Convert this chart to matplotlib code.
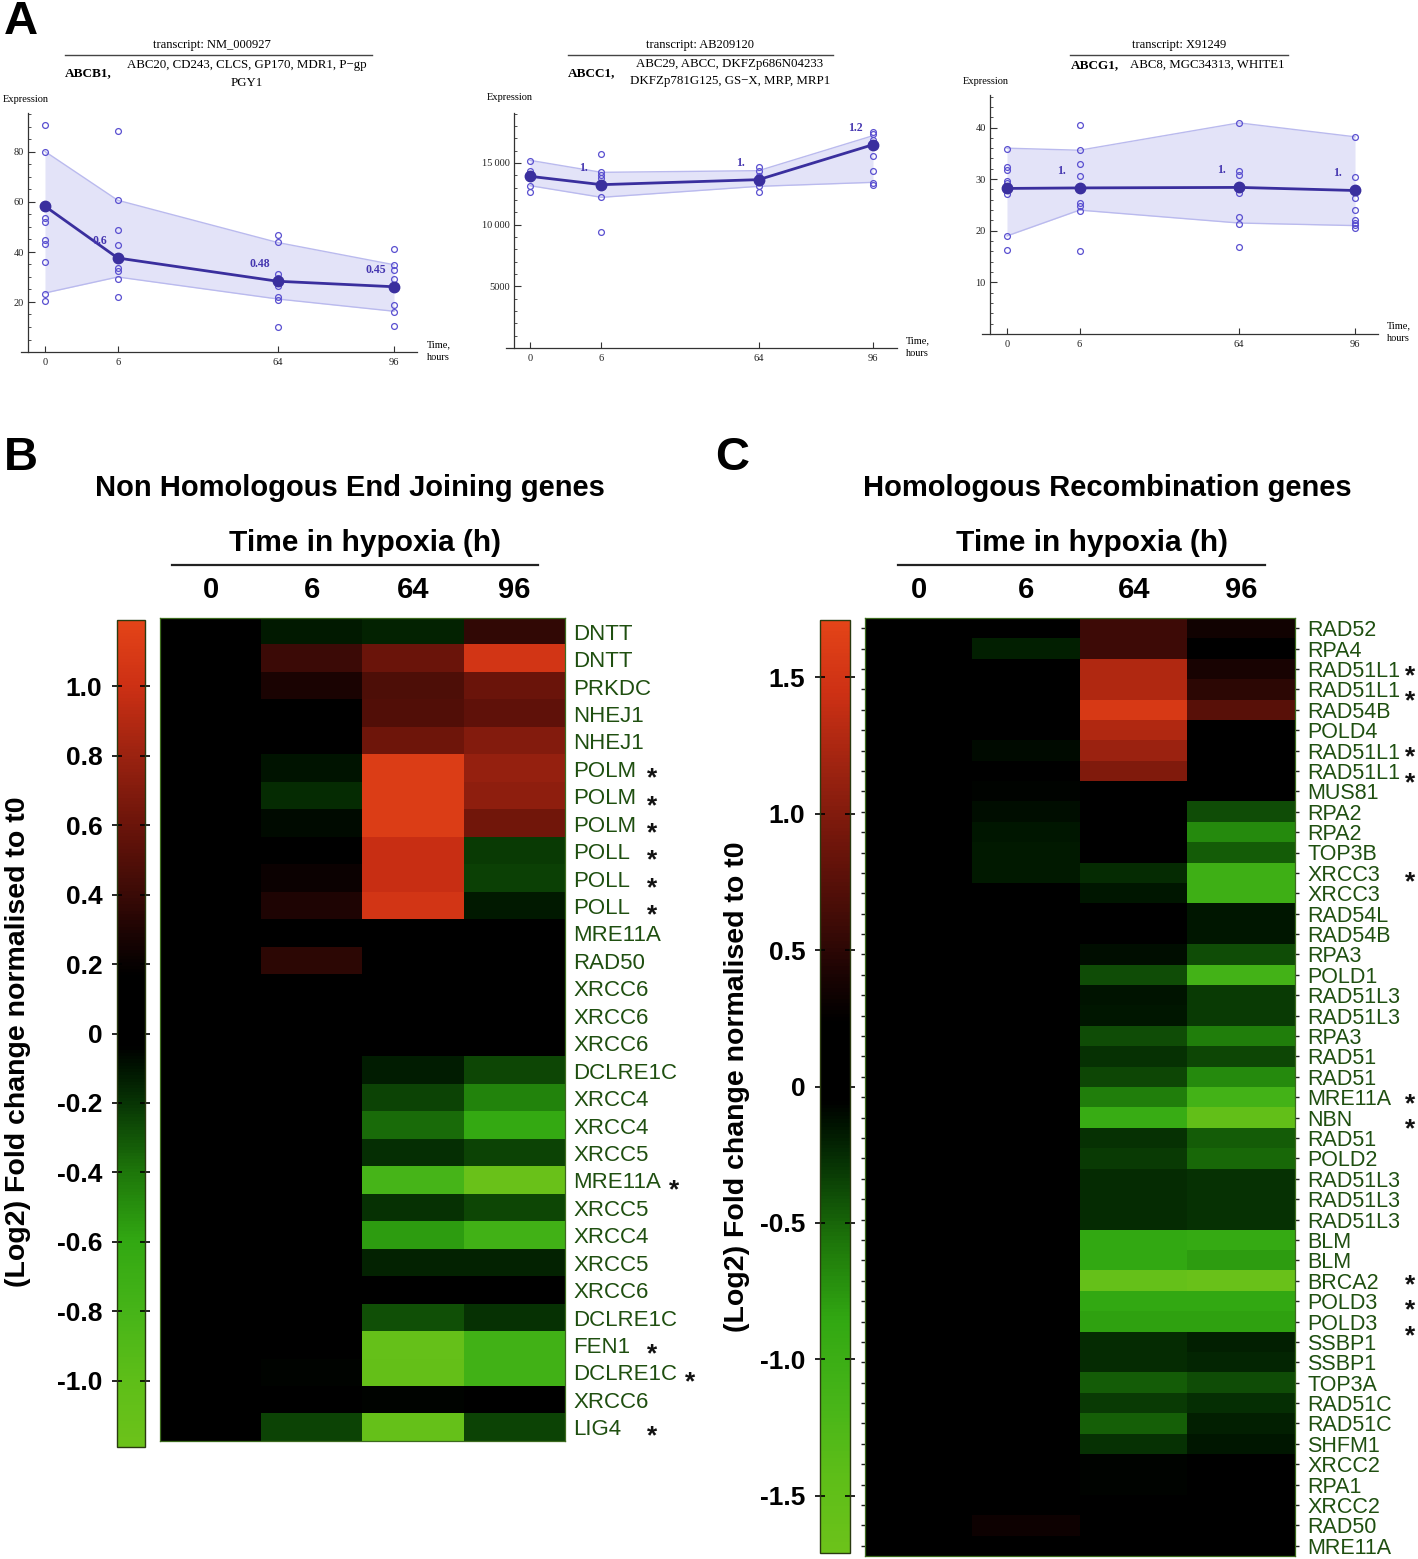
import numpy as np
import matplotlib
matplotlib.use('Agg')
import matplotlib.pyplot as plt
from matplotlib.colors import LinearSegmentedColormap, Normalize
from matplotlib.lines import Line2D
from matplotlib.ticker import MultipleLocator, FixedLocator
from matplotlib.font_manager import FontProperties
import matplotlib.cm as mcm

plt.rcParams['axes.unicode_minus'] = False

# ---------------- DATA: panel A ----------------
time_labels = ['0', '6', '64', '96']
time_pos = [0.0, 1.0, 3.2, 4.8]

abcb1_reps = [[90.7, 80.1, 53.5, 51.9, 44.7, 43.2, 36.0, 23.3, 20.3],
              [88.5, 60.7, 48.7, 42.8, 33.7, 32.3, 29.3, 21.9],
              [46.8, 43.9, 31.2, 29.6, 26.4, 22.0, 20.8, 9.9],
              [41.1, 34.7, 32.9, 29.1, 18.7, 16.1, 10.3]]
abcb1_mean = [58.3, 37.6, 28.3, 26.1]
abcb1_upper = [80.2, 60.7, 43.8, 34.9]
abcb1_lower = [23.6, 30.0, 21.2, 16.3]
abcb1_fc = ['', '0.6', '0.48', '0.45']

abcc1_reps = [[15135, 14324, 14135, 13784, 13162, 12622],
              [15703, 14243, 14000, 13811, 12243, 9378],
              [14649, 14324, 13973, 13162, 12649],
              [17486, 17351, 16892, 15595, 14351, 13378, 13243]]
abcc1_mean = [13920, 13243, 13650, 16486]
abcc1_upper = [15216, 14243, 14378, 17216]
abcc1_lower = [13162, 12216, 13108, 13432]
abcc1_fc = ['', '1.', '1.', '1.2']

abcg1_reps = [[35.9, 32.4, 31.8, 29.6, 29.2, 27.1, 18.9, 16.3],
              [40.5, 35.6, 33.0, 30.6, 25.3, 24.8, 23.8, 16.1],
              [40.9, 31.5, 30.8, 27.4, 22.6, 21.3, 16.9],
              [38.2, 30.4, 26.4, 24.1, 22.1, 21.6, 21.2, 20.6]]
abcg1_mean = [28.2, 28.3, 28.4, 27.8]
abcg1_upper = [36.0, 35.6, 40.9, 38.2]
abcg1_lower = [19.0, 24.0, 21.5, 21.0]
abcg1_fc = ['', '1.', '1.', '1.']

# ---------------- DATA: panel B (NHEJ) ----------------
hm_times = ['0', '6', '64', '96']
nhej_genes = ['DNTT', 'DNTT', 'PRKDC', 'NHEJ1', 'NHEJ1', 'POLM', 'POLM', 'POLM',
              'POLL', 'POLL', 'POLL', 'MRE11A', 'RAD50', 'XRCC6', 'XRCC6', 'XRCC6',
              'DCLRE1C', 'XRCC4', 'XRCC4', 'XRCC5', 'MRE11A', 'XRCC5', 'XRCC4',
              'XRCC5', 'XRCC6', 'DCLRE1C', 'FEN1', 'DCLRE1C', 'XRCC6', 'LIG4']
nhej_star = [0, 0, 0, 0, 0, 1, 1, 1, 1, 1, 1, 0, 0, 0, 0, 0, 0, 0, 0, 0,
             1, 0, 0, 0, 0, 0, 1, 1, 0, 1]
nhej_0h = [0, 0, 0, 0, 0, 0, 0, 0, 0, 0, 0, 0, 0, 0, 0, 0, 0, 0, 0, 0,
           0, 0, 0, 0, 0, 0, 0, 0, 0, 0]
nhej_6h = [-0.12, 0.40, 0.28, 0, 0, -0.10, -0.17, -0.07, 0, 0.22, 0.30, 0, 0.35, 0, 0, 0,
           0, 0, 0, 0, 0, 0, 0, 0, 0, 0, 0, -0.05, 0, -0.25]
nhej_64h = [-0.14, 0.60, 0.48, 0.50, 0.62, 1.12, 1.12, 1.12, 0.98, 0.98, 1.05, 0, 0, 0,
            -0.04, -0.04, -0.13, -0.25, -0.37, -0.18, -0.80, -0.19, -0.55, -0.14, -0.03,
            -0.28, -1.10, -1.08, -0.05, -1.10]
nhej_96h = [0.37, 1.05, 0.60, 0.55, 0.70, 0.78, 0.75, 0.63, -0.22, -0.24, -0.12, 0, 0, 0,
            -0.02, -0.02, -0.26, -0.45, -0.62, -0.25, -1.15, -0.26, -0.75, -0.14, -0.03,
            -0.19, -0.75, -0.75, -0.02, -0.25]

# ---------------- DATA: panel C (HR) ----------------
hr_genes = ['RAD52', 'RPA4', 'RAD51L1', 'RAD51L1', 'RAD54B', 'POLD4', 'RAD51L1', 'RAD51L1',
            'MUS81', 'RPA2', 'RPA2', 'TOP3B', 'XRCC3', 'XRCC3', 'RAD54L', 'RAD54B', 'RPA3',
            'POLD1', 'RAD51L3', 'RAD51L3', 'RPA3', 'RAD51', 'RAD51', 'MRE11A', 'NBN', 'RAD51',
            'POLD2', 'RAD51L3', 'RAD51L3', 'RAD51L3', 'BLM', 'BLM', 'BRCA2', 'POLD3', 'POLD3',
            'SSBP1', 'SSBP1', 'TOP3A', 'RAD51C', 'RAD51C', 'SHFM1', 'XRCC2', 'RPA1', 'XRCC2',
            'RAD50', 'MRE11A']
hr_star = [0, 0, 1, 1, 0, 0, 1, 1, 0, 0, 0, 0, 1, 0, 0, 0, 0, 0, 0, 0, 0, 0, 0, 1, 1,
           0, 0, 0, 0, 0, 0, 0, 1, 1, 1, 0, 0, 0, 0, 0, 0, 0, 0, 0, 0, 0]
hr_0h = [0, 0, 0, 0, 0, 0, 0, 0, 0, 0, 0, 0, 0, 0, 0, 0, 0, 0, 0, 0, 0, 0, 0,
         0, 0, 0, 0, 0, 0, 0, 0, 0, 0, 0, 0, 0, 0, 0, 0, 0, 0, 0, 0, 0, 0, 0]
hr_6h = [0, -0.19, 0, 0, 0, 0, -0.10, 0, -0.08, -0.12, -0.15, -0.17, -0.17, -0.05,
         0, 0, 0, 0, 0, 0, 0, 0, 0, 0, 0, 0, 0, 0, 0, 0, 0, 0, 0, 0, 0, 0, 0, 0,
         0, 0, 0, 0, 0, 0, 0.33, 0]
hr_64h = [0.60, 0.60, 1.27, 1.28, 1.56, 1.27, 1.15, 1.00, 0, 0, 0, 0, -0.25, -0.16, 0, 0,
          -0.12, -0.40, -0.14, -0.15, -0.39, -0.28, -0.37, -0.62, -0.95, -0.28, -0.32,
          -0.25, -0.25, -0.25, -0.86, -0.86, -1.58, -0.86, -0.82, -0.25, -0.25, -0.46,
          -0.32, -0.48, -0.28, -0.07, -0.08, 0, 0, 0]
hr_96h = [0.36, 0, 0.40, 0.50, 0.75, 0, 0, 0, 0, -0.40, -0.69, -0.46, -1.04, -1.04, -0.15,
          -0.15, -0.40, -1.12, -0.32, -0.32, -0.62, -0.37, -0.69, -1.12, -1.51, -0.46,
          -0.52, -0.28, -0.28, -0.28, -0.92, -0.80, -1.65, -0.86, -0.82, -0.20, -0.22,
          -0.39, -0.26, -0.20, -0.15, 0, 0, 0, 0, 0]

nhej_cb_ticks = [1.0, 0.8, 0.6, 0.4, 0.2, 0, -0.2, -0.4, -0.6, -0.8, -1.0]
nhej_cb_labels = ['1.0', '0.8', '0.6', '0.4', '0.2', '0', '-0.2', '-0.4', '-0.6', '-0.8', '-1.0']
hr_cb_ticks = [1.5, 1.0, 0.5, 0, -0.5, -1.0, -1.5]
hr_cb_labels = ['1.5', '1.0', '0.5', '0', '-0.5', '-1.0', '-1.5']

# ---------------- FIGURE ----------------
W, H = 1418, 1559
fig = plt.figure(figsize=(W / 100, H / 100), dpi=100)
fig.patch.set_facecolor('white')


def rect(x0, y0, x1, y1):
    return [x0 / W, 1 - y1 / H, (x1 - x0) / W, (y1 - y0) / H]


def ft(x, y, s, **kw):
    return fig.text(x / W, 1 - y / H, s, **kw)


def fline(x0, x1, y, **kw):
    fig.add_artist(Line2D([x0 / W, x1 / W], [1 - y / H, 1 - y / H], transform=fig.transFigure, **kw))


SERIF = 'Liberation Serif'
SANS = 'Liberation Sans'
LINE_C = '#3a2f9e'
PT_C = '#5a50d0'
BAND_F = '#e3e3f8'
BAND_E = '#babaee'
AX_C = '#333333'


def line_panel(ax_l, ax_r, p0, pend, yax, top, bottom, ymax, reps, mean, upper, lower, fc,
               major, minor, ylabels):
    ppu = (pend - p0) / time_pos[-1]
    xl = -(p0 - ax_l) / ppu
    xr = time_pos[-1] + (ax_r - pend) / ppu
    ax = fig.add_axes(rect(ax_l, top, ax_r, bottom))
    ax.set_xlim(xl, xr)
    ax.set_ylim(0, ymax)
    ax.patch.set_alpha(0)
    for s in ['top', 'right']:
        ax.spines[s].set_visible(False)
    ax.spines['left'].set_position(('data', xl + (yax - ax_l) / ppu))
    for s in ['left', 'bottom']:
        ax.spines[s].set_color(AX_C)
        ax.spines[s].set_linewidth(0.9)
    ax.fill_between(time_pos, lower, upper, color=BAND_F, lw=0, zorder=1)
    ax.plot(time_pos, upper, color=BAND_E, lw=1.0, zorder=2)
    ax.plot(time_pos, lower, color=BAND_E, lw=1.0, zorder=2)
    for p, r in zip(time_pos, reps):
        ax.plot([p] * len(r), r, 'o', mfc='none', mec=PT_C, ms=4.2, mew=0.9, zorder=3)
    ax.plot(time_pos, mean, '-o', color=LINE_C, lw=2.0, ms=7.5, zorder=4)
    for p, m, t in zip(time_pos, mean, fc):
        if t:
            ax.annotate(t, (p, m), xytext=(-18, 17), textcoords='offset pixels',
                        ha='center', va='center', fontsize=8.5, fontweight='bold',
                        color='#4536b0', family=SERIF, zorder=5)
    ax.yaxis.set_major_locator(FixedLocator(major))
    ax.set_yticklabels(ylabels, family=SERIF, fontsize=7.5, color='#222222')
    ax.yaxis.set_minor_locator(MultipleLocator(minor))
    ax.tick_params(axis='y', which='major', direction='in', length=5, width=0.8, color=AX_C, pad=3)
    ax.tick_params(axis='y', which='minor', direction='in', length=2.5, width=0.6, color=AX_C)
    ax.set_xticks(time_pos)
    ax.set_xticklabels(time_labels, family=SERIF, fontsize=7.5, color='#222222')
    ax.tick_params(axis='x', direction='in', length=4, width=0.8, color=AX_C, pad=4)
    return ax


# Panel A - left
line_panel(21, 417, 45, 394, 28, 113, 352, 95.6, abcb1_reps, abcb1_mean, abcb1_upper,
           abcb1_lower, abcb1_fc, [20, 40, 60, 80], 5, ['20', '40', '60', '80'])
ft(212, 45, 'transcript: NM_000927', ha='center', va='center', family=SERIF, fontsize=9)
fline(65, 372, 55, color='#444444', lw=1.0)
ft(65, 73, 'ABCB1,', ha='left', va='center', family=SERIF, fontsize=9.5, fontweight='bold')
ft(247, 65, 'ABC20, CD243, CLCS, GP170, MDR1, P\u2212gp', ha='center', va='center', family=SERIF, fontsize=9.3)
ft(247, 83, 'PGY1', ha='center', va='center', family=SERIF, fontsize=9.3)
ft(3, 99, 'Expression', ha='left', va='center', family=SERIF, fontsize=7.5)
ft(427, 351, 'Time,\nhours', ha='left', va='center', family=SERIF, fontsize=7.5, linespacing=1.5)

# Panel A - middle
line_panel(506, 897, 530, 873, 514, 113, 348, 19054, abcc1_reps, abcc1_mean, abcc1_upper,
           abcc1_lower, abcc1_fc, [5000, 10000, 15000], 1000, ['5000', '10\u2009000', '15\u2009000'])
ft(700, 45, 'transcript: AB209120', ha='center', va='center', family=SERIF, fontsize=9)
fline(568, 833, 55, color='#444444', lw=1.0)
ft(568, 73, 'ABCC1,', ha='left', va='center', family=SERIF, fontsize=9.5, fontweight='bold')
ft(730, 64, 'ABC29, ABCC, DKFZp686N04233', ha='center', va='center', family=SERIF, fontsize=9.3)
ft(730, 81, 'DKFZp781G125, GS\u2212X, MRP, MRP1', ha='center', va='center', family=SERIF, fontsize=9.3)
ft(487, 98, 'Expression', ha='left', va='center', family=SERIF, fontsize=7.5)
ft(906, 347, 'Time,\nhours', ha='left', va='center', family=SERIF, fontsize=7.5, linespacing=1.5)

# Panel A - right
line_panel(982, 1378, 1007, 1355, 990, 95, 334, 46.3, abcg1_reps, abcg1_mean, abcg1_upper,
           abcg1_lower, abcg1_fc, [10, 20, 30, 40], 2, ['10', '20', '30', '40'])
ft(1179, 45, 'transcript: X91249', ha='center', va='center', family=SERIF, fontsize=9)
fline(1070, 1288, 55, color='#444444', lw=1.0)
ft(1071, 65, 'ABCG1,', ha='left', va='center', family=SERIF, fontsize=9.5, fontweight='bold')
ft(1130, 65, 'ABC8, MGC34313, WHITE1', ha='left', va='center', family=SERIF, fontsize=9.3)
ft(963, 81, 'Expression', ha='left', va='center', family=SERIF, fontsize=7.5)
ft(1387, 332, 'Time,\nhours', ha='left', va='center', family=SERIF, fontsize=7.5, linespacing=1.5)

# panel letters
ft(4, 22, 'A', ha='left', va='center', family=SANS, fontsize=34, fontweight='bold')
ft(4, 458, 'B', ha='left', va='center', family=SANS, fontsize=34, fontweight='bold')
ft(715, 458, 'C', ha='left', va='center', family=SANS, fontsize=34, fontweight='bold')

# ---------------- colormap ----------------
cm_vals = [-1.19, -1.0, -0.8, -0.6, -0.4, -0.2, -0.1, -0.04, 0.17, 0.3, 0.4, 0.6, 0.8, 1.0, 1.19]
cm_cols = ['#6cc21a', '#5ebe18', '#46b418', '#32a812', '#1d760a', '#073404', '#001400',
           '#000000', '#000000', '#1e0403', '#3a0a06', '#6a140a', '#9a2210', '#cc3014', '#e44418']
cmap = LinearSegmentedColormap.from_list(
    'gkr', [((v + 1.19) / 2.38, c) for v, c in zip(cm_vals, cm_cols)])

LBL_C = '#1f4f10'
STAR_FS = 19


def heatmap(hm_px, cb_px, cols, genes, stars, vlim, cb_ticks, cb_labels, lab_fs, star_x,
            star_after, left_ticks):
    arr = np.array(cols).T
    n = len(genes)
    ax = fig.add_axes(rect(*hm_px))
    ax.imshow(arr, cmap=cmap, vmin=-vlim, vmax=vlim, aspect='auto', interpolation='nearest')
    ax.set_xticks(range(len(hm_times)))
    ax.set_xticklabels(hm_times, family=SANS, fontsize=21, fontweight='bold')
    ax.xaxis.tick_top()
    ax.tick_params(axis='x', length=0, pad=10)
    ax.set_yticks(range(n))
    ax.set_yticklabels(genes, family=SANS, fontsize=lab_fs, color=LBL_C)
    ax.yaxis.tick_right()
    ax.tick_params(axis='y', length=0, pad=6)
    if left_ticks:
        ax.tick_params(axis='y', which='both', left=True, length=3, width=1, color='#222222')
    for s in ax.spines.values():
        s.set_color('#3c6a1e')
        s.set_linewidth(0.9)
    # colorbar
    cax = fig.add_axes(rect(*cb_px))
    sm = mcm.ScalarMappable(norm=Normalize(-vlim, vlim), cmap=cmap)
    cb = fig.colorbar(sm, cax=cax)
    cb.outline.set_edgecolor('#2a3a10')
    cb.outline.set_linewidth(1.0)
    cb.set_ticks(cb_ticks)
    cb.set_ticklabels(cb_labels)
    cax.yaxis.set_ticks_position('both')
    cax.tick_params(axis='y', left=True, right=True, labelleft=True, labelright=False,
                    direction='inout', length=7, width=1.2, color='black', pad=7)
    for t in cax.get_yticklabels():
        t.set_family(SANS)
        t.set_fontweight('bold')
        t.set_fontsize(19)
    # stars
    fig.canvas.draw()
    r = fig.canvas.get_renderer()
    labs = ax.get_yticklabels()
    pitch = (hm_px[3] - hm_px[1]) / n
    fp = FontProperties(family=SANS, weight='bold', size=STAR_FS)
    _, lp_h, lp_d = r.get_text_width_height_descent('lp', fp, ismath=False)
    ls = pitch / (lp_h - lp_d)
    if star_after:
        groups = [[i] for i in range(n) if stars[i]]
    else:
        groups = []
        for i in range(n):
            if stars[i]:
                if groups and groups[-1][-1] == i - 1:
                    groups[-1].append(i)
                else:
                    groups.append([i])
    for g in groups:
        ys = []
        xs = star_x
        for i in g:
            bb = labs[i].get_window_extent(r)
            ys.append((bb.y0 + bb.y1) / 2)
            if star_after:
                xs = max(star_x, bb.x1 + 13)
        yc = np.mean(ys) - 7
        fig.text(xs / W, yc / H, '\n'.join(['*'] * len(g)), ha='center', va='center',
                 family=SANS, fontsize=STAR_FS, fontweight='bold', color='#111111',
                 linespacing=ls, multialignment='center')
    return ax


heatmap((160, 618, 565, 1441), (117, 620, 145, 1447),
        [nhej_0h, nhej_6h, nhej_64h, nhej_96h], nhej_genes, nhej_star, 1.19,
        nhej_cb_ticks, nhej_cb_labels, 16, 652, True, False)
heatmap((865, 618, 1295, 1556), (820, 620, 850, 1553),
        [hr_0h, hr_6h, hr_64h, hr_96h], hr_genes, hr_star, 1.71,
        hr_cb_ticks, hr_cb_labels, 15.5, 1410, False, True)

# titles
ft(350, 488, 'Non Homologous End Joining genes', ha='center', va='center', family=SANS,
   fontsize=21, fontweight='bold')
ft(365, 543, 'Time in hypoxia (h)', ha='center', va='center', family=SANS, fontsize=21.5,
   fontweight='bold')
fline(172, 538, 565, color='#222222', lw=1.6)
ft(18, 1042, '(Log2) Fold change normalised to t0', ha='center', va='center', family=SANS,
   fontsize=20.5, fontweight='bold', rotation=90)

ft(1107, 488, 'Homologous Recombination genes', ha='center', va='center', family=SANS,
   fontsize=21, fontweight='bold')
ft(1092, 543, 'Time in hypoxia (h)', ha='center', va='center', family=SANS, fontsize=21.5,
   fontweight='bold')
fline(898, 1265, 565, color='#222222', lw=1.6)
ft(737, 1087, '(Log2) Fold change normalised to t0', ha='center', va='center', family=SANS,
   fontsize=20.5, fontweight='bold', rotation=90)

fig.savefig('out.png', dpi=100, facecolor='white')
